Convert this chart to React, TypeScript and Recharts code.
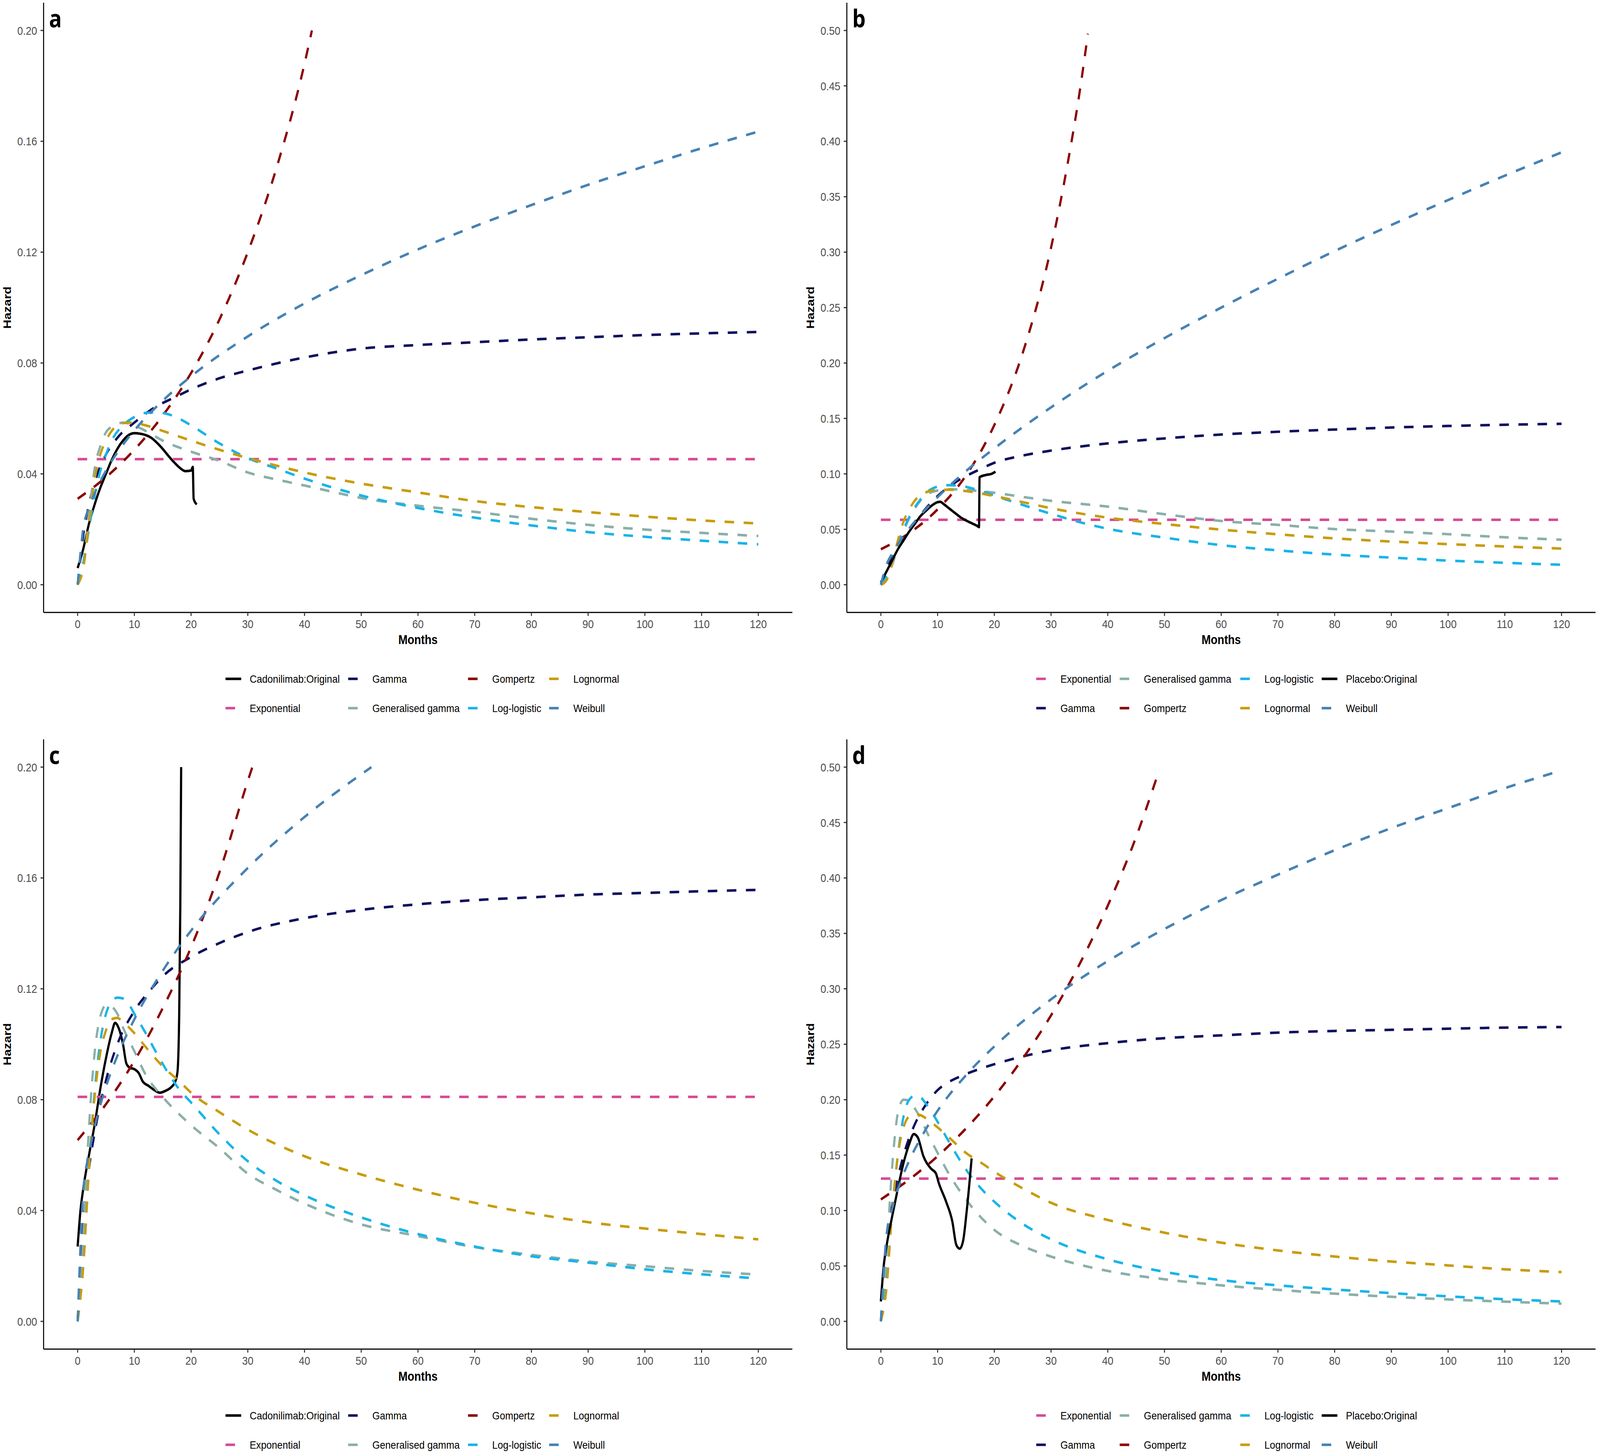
import React from 'react';
import { LineChart, Line, XAxis, YAxis, Label } from 'recharts';

type Pt = [number, number];

// ---------- Panel a (Cadonilimab) ----------
const aOriginal: Pt[] = [[0,0.006],[1,0.013],[2,0.022],[3,0.029],[4,0.035],[5,0.04],[6,0.045],[7,0.049],[8,0.052],[9,0.054],[10,0.0547],[11,0.0545],[12,0.054],[13,0.053],[14,0.0512],[15,0.049],[16,0.0465],[17,0.0442],[18,0.0422],[19,0.041],[20,0.0412],[20.3,0.0425],[20.45,0.031],[21,0.029]];
const aExponential: Pt[] = [[0,0.0453],[120,0.0453]];
const aGamma: Pt[] = [[0,0],[1,0.018],[2,0.029],[3,0.037],[5,0.047],[7,0.053],[10,0.0585],[14,0.0645],[17,0.0675],[20,0.0705],[25,0.0745],[30,0.0773],[40,0.082],[50,0.0852],[60,0.0865],[70,0.0875],[80,0.0885],[90,0.0893],[100,0.0901],[110,0.0907],[120,0.0912]];
const aGenGamma: Pt[] = [[0,0],[1,0.008],[2,0.025],[3,0.042],[4,0.05],[5,0.055],[6,0.057],[7,0.058],[8,0.0585],[10,0.0575],[12,0.0555],[15,0.052],[20,0.048],[25,0.0447],[30,0.0405],[35,0.038],[40,0.0358],[45,0.0335],[50,0.0313],[60,0.0285],[70,0.0263],[80,0.0238],[90,0.0216],[100,0.0199],[110,0.0187],[120,0.0176]];
const aGompertz: Pt[] = [[0,0.031],[5,0.0388],[10,0.0487],[15,0.061],[20,0.0764],[25,0.0957],[30,0.12],[35,0.15],[40,0.188],[41.3,0.2]];
const aLogLogistic: Pt[] = [[0,0],[1,0.008],[2,0.02],[3,0.032],[4,0.041],[5,0.047],[6,0.052],[8,0.0575],[10,0.0605],[12,0.062],[14,0.0622],[16,0.0615],[18,0.0598],[20,0.0575],[25,0.051],[30,0.0457],[35,0.042],[40,0.0383],[50,0.0322],[60,0.0277],[70,0.0242],[80,0.0214],[90,0.019],[100,0.0173],[110,0.0159],[120,0.0146]];
const aLognormal: Pt[] = [[0,0],[1,0.006],[2,0.022],[3,0.038],[4,0.047],[5,0.052],[6,0.0555],[7,0.0575],[8,0.0583],[9,0.0585],[10,0.0584],[12,0.0575],[15,0.0555],[20,0.052],[25,0.0487],[30,0.0457],[35,0.043],[40,0.0405],[50,0.0365],[60,0.0333],[70,0.0302],[80,0.028],[90,0.0262],[100,0.0246],[110,0.0232],[120,0.0221]];
const aWeibull: Pt[] = [[0,0],[1,0.0205],[2,0.0277],[3,0.033],[5,0.0412],[7,0.0477],[10,0.0557],[15,0.0664],[20,0.0752],[30,0.0896],[40,0.1015],[50,0.1117],[60,0.121],[70,0.1293],[80,0.137],[90,0.1443],[100,0.151],[110,0.1575],[120,0.1635]];

// ---------- Panel b (Placebo) ----------
const bOriginal: Pt[] = [[0,0.002],[1,0.012],[2,0.022],[3,0.032],[4,0.04],[5,0.048],[6,0.055],[7,0.062],[8,0.067],[9,0.0715],[10,0.0745],[10.5,0.0748],[11,0.073],[12,0.069],[13,0.065],[14,0.061],[15,0.058],[16,0.0555],[17,0.053],[17.3,0.052],[17.4,0.097],[18.5,0.099],[19.5,0.1],[20.2,0.102]];
const bExponential: Pt[] = [[0,0.0586],[120,0.0586]];
const bGamma: Pt[] = [[0,0],[1,0.014],[2,0.024],[3,0.033],[5,0.049],[7,0.063],[10,0.08],[13,0.092],[15,0.098],[17,0.103],[20,0.11],[25,0.1165],[30,0.121],[40,0.1275],[50,0.132],[60,0.1355],[70,0.138],[80,0.14],[90,0.1418],[100,0.1432],[110,0.1443],[120,0.1452]];
const bGenGamma: Pt[] = [[0,0],[1,0.005],[2,0.018],[3,0.033],[4,0.048],[5,0.06],[6,0.069],[7,0.076],[8,0.081],[10,0.085],[12,0.0862],[15,0.0855],[20,0.083],[25,0.0792],[30,0.0757],[40,0.0705],[50,0.0636],[60,0.0575],[70,0.054],[80,0.0502],[90,0.048],[100,0.0456],[110,0.0428],[120,0.0406]];
const bGompertz: Pt[] = [[0,0.032],[5,0.0466],[10,0.068],[15,0.0985],[20,0.144],[25,0.209],[30,0.304],[33,0.382],[35,0.443],[36.5,0.497]];
const bLogLogistic: Pt[] = [[0,0],[1,0.008],[2,0.022],[3,0.037],[4,0.05],[5,0.061],[6,0.07],[7,0.077],[8,0.083],[9,0.0865],[10,0.0885],[11,0.0895],[12,0.0898],[14,0.0893],[16,0.087],[18,0.084],[20,0.0805],[25,0.072],[30,0.064],[35,0.0565],[40,0.0505],[50,0.0425],[60,0.0357],[70,0.031],[80,0.0272],[90,0.0245],[100,0.0218],[110,0.0198],[120,0.018]];
const bLognormal: Pt[] = [[0,0],[1,0.004],[2,0.02],[3,0.04],[4,0.057],[5,0.068],[6,0.076],[7,0.081],[8,0.0835],[10,0.0855],[12,0.0857],[15,0.0845],[20,0.08],[25,0.0745],[30,0.069],[40,0.0605],[50,0.0548],[60,0.0497],[70,0.0455],[80,0.0418],[90,0.039],[100,0.0366],[110,0.0345],[120,0.0326]];
const bWeibull: Pt[] = [[0,0],[1,0.0181],[2,0.0282],[3,0.0366],[5,0.0508],[7,0.063],[10,0.079],[15,0.1025],[20,0.123],[30,0.16],[40,0.193],[50,0.2225],[60,0.25],[70,0.276],[80,0.301],[90,0.3245],[100,0.347],[110,0.369],[120,0.39]];

// ---------- Panel c (Cadonilimab) ----------
const cOriginal: Pt[] = [[0,0.027],[0.5,0.04],[1,0.048],[2,0.06],[3,0.071],[4,0.084],[5,0.095],[6,0.104],[6.6,0.1077],[7.2,0.106],[8,0.1],[8.6,0.093],[9.2,0.0915],[10,0.091],[10.8,0.0895],[11.5,0.0865],[12.5,0.085],[13.5,0.0835],[14.5,0.0825],[15.5,0.0832],[16.5,0.0845],[17.2,0.0865],[17.6,0.09],[17.9,0.11],[18.1,0.15],[18.25,0.2]];
const cExponential: Pt[] = [[0,0.081],[120,0.081]];
const cGamma: Pt[] = [[0,0],[1,0.035],[2,0.055],[3,0.068],[5,0.087],[7,0.1],[10,0.112],[13,0.12],[15,0.1245],[20,0.1315],[25,0.1365],[30,0.1405],[40,0.1455],[50,0.1485],[60,0.1505],[70,0.152],[80,0.153],[90,0.154],[100,0.1546],[110,0.1552],[120,0.1557]];
const cGenGamma: Pt[] = [[0,0],[0.5,0.01],[1,0.03],[2,0.07],[3,0.097],[4,0.11],[5,0.114],[6,0.1135],[7,0.111],[8,0.106],[10,0.0975],[12,0.089],[15,0.081],[20,0.0708],[25,0.0625],[30,0.0533],[35,0.0475],[40,0.0425],[50,0.035],[60,0.0308],[70,0.0268],[80,0.024],[90,0.0216],[100,0.0199],[110,0.0182],[120,0.0169]];
const cGompertz: Pt[] = [[0,0.0654],[5,0.0784],[10,0.094],[15,0.113],[20,0.135],[25,0.162],[30,0.195],[30.8,0.2]];
const cLogLogistic: Pt[] = [[0,0],[1,0.02],[2,0.055],[3,0.083],[4,0.101],[5,0.111],[6,0.1155],[7,0.1168],[8,0.1165],[9,0.1145],[10,0.111],[12,0.104],[14,0.0965],[16,0.0895],[18,0.0835],[20,0.079],[25,0.0675],[30,0.0578],[35,0.0508],[40,0.0455],[50,0.0375],[60,0.0315],[70,0.027],[80,0.0235],[90,0.0212],[100,0.0188],[110,0.017],[120,0.0155]];
const cLognormal: Pt[] = [[0,0],[1,0.02],[2,0.055],[3,0.081],[4,0.097],[5,0.105],[6,0.109],[7,0.1095],[8,0.108],[10,0.104],[12,0.099],[15,0.092],[18,0.0865],[20,0.0825],[25,0.0755],[30,0.0692],[40,0.0596],[50,0.053],[60,0.0475],[70,0.0428],[80,0.039],[90,0.0358],[100,0.0335],[110,0.0315],[120,0.0296]];
const cWeibull: Pt[] = [[0,0],[1,0.0469],[2,0.0605],[3,0.0702],[5,0.0847],[7,0.0958],[10,0.109],[15,0.1265],[20,0.141],[30,0.1636],[40,0.182],[51.8,0.2]];

// ---------- Panel d (Placebo) ----------
const dOriginal: Pt[] = [[0,0.018],[0.5,0.05],[1,0.068],[2,0.095],[3,0.12],[4,0.143],[5,0.16],[5.8,0.169],[6.5,0.166],[7.5,0.149],[8.8,0.138],[9.7,0.1335],[10.2,0.125],[11.5,0.108],[12.6,0.09],[13.3,0.069],[13.9,0.0656],[14.5,0.0727],[15.1,0.098],[16,0.147]];
const dExponential: Pt[] = [[0,0.1288],[120,0.1288]];
const dGamma: Pt[] = [[0,0],[1,0.07],[2,0.105],[3,0.13],[4,0.15],[6,0.178],[8,0.196],[10,0.2086],[12,0.216],[14,0.221],[17,0.227],[20,0.232],[25,0.239],[30,0.2445],[40,0.251],[50,0.2555],[60,0.258],[70,0.2605],[80,0.262],[90,0.263],[100,0.264],[110,0.265],[120,0.2655]];
const dGenGamma: Pt[] = [[0,0],[0.5,0.02],[1,0.06],[2,0.14],[3,0.188],[4,0.2],[5,0.199],[6,0.192],[7,0.183],[8,0.172],[10,0.152],[12,0.133],[15,0.11],[20,0.0825],[25,0.068],[30,0.0585],[40,0.0455],[50,0.038],[60,0.0325],[70,0.0285],[80,0.025],[90,0.0222],[100,0.0198],[110,0.0178],[120,0.016]];
const dGompertz: Pt[] = [[0,0.11],[5,0.128],[10,0.149],[15,0.174],[20,0.203],[25,0.237],[30,0.276],[35,0.322],[40,0.375],[45,0.437],[48.6,0.49]];
const dLogLogistic: Pt[] = [[0,0],[1,0.035],[2,0.1],[3,0.15],[4,0.185],[5,0.2],[6,0.2036],[7,0.202],[8,0.196],[10,0.18],[12,0.162],[15,0.137],[18,0.118],[20,0.108],[25,0.088],[30,0.074],[40,0.056],[50,0.0447],[60,0.0372],[70,0.0325],[80,0.0288],[90,0.0255],[100,0.0226],[110,0.02],[120,0.018]];
const dLognormal: Pt[] = [[0,0],[1,0.03],[2,0.1],[3,0.15],[4,0.175],[5,0.185],[6,0.187],[7,0.186],[8,0.183],[10,0.175],[12,0.166],[15,0.152],[18,0.142],[20,0.135],[25,0.12],[30,0.107],[40,0.0915],[50,0.08],[60,0.071],[70,0.064],[80,0.0585],[90,0.054],[100,0.0505],[110,0.047],[120,0.0445]];
const dWeibull: Pt[] = [[0,0],[1,0.0778],[2,0.1018],[3,0.119],[5,0.145],[7,0.165],[10,0.19],[15,0.222],[20,0.248],[30,0.2905],[40,0.325],[50,0.354],[60,0.38],[70,0.403],[80,0.425],[90,0.445],[100,0.463],[110,0.481],[120,0.497]];

// ---------- Axes / labels ----------
const monthTicks = [0, 10, 20, 30, 40, 50, 60, 70, 80, 90, 100, 110, 120];
const hazardTicksSmall = [0, 0.04, 0.08, 0.12, 0.16, 0.2];
const hazardTicksLarge = [0, 0.05, 0.1, 0.15, 0.2, 0.25, 0.3, 0.35, 0.4, 0.45, 0.5];

const COLORS: Record<string, string> = {
  'Cadonilimab:Original': '#000000',
  'Placebo:Original': '#000000',
  'Exponential': '#D64B96',
  'Gamma': '#10105E',
  'Generalised gamma': '#8AAFAA',
  'Gompertz': '#8B0000',
  'Log-logistic': '#18B4E8',
  'Lognormal': '#C89C0C',
  'Weibull': '#4682B4',
};

const FONT = '"Liberation Sans", Arial, Helvetica, sans-serif';
const LINE_W = 6.5;
const DASH = '28 28';
const PAGE_W = 4697;
const PAGE_H = 3720;

type Series = { name: string; pts: Pt[] };
type LegendCol = { x: number; items: string[] };

const isOriginal = (n: string) => n.endsWith(':Original');

const hazardLabel = (props: any) => {
  const vb = (props && props.viewBox) || {};
  const y0 = typeof vb.y === 'number' ? vb.y : 7;
  const h = typeof vb.height === 'number' ? vb.height : 1561;
  const cx = 20;
  const cy = y0 + h / 2;
  return (
    <text
      x={cx}
      y={cy}
      transform={`rotate(-90 ${cx} ${cy})`}
      textAnchor="middle"
      dominantBaseline="central"
      style={{ fontSize: 32.5, fontWeight: 700, fill: '#000', fontFamily: FONT }}
    >
      Hazard
    </text>
  );
};

function Panel(props: {
  left: number;
  top: number;
  letter: string;
  yDomain: [number, number];
  yTicks: number[];
  series: Series[];
  legend: LegendCol[];
}) {
  const { left, top, letter, yDomain, yTicks, series, legend } = props;
  const W = 2339;
  return (
    <div style={{ position: 'absolute', left, top, width: W, height: 1834 }}>
      <LineChart width={W} height={1670} margin={{ top: 7, right: 13, bottom: 0, left: 0 }}>
        <XAxis
          type="number"
          dataKey="x"
          domain={[-6, 126]}
          ticks={monthTicks}
          interval={0}
          allowDataOverflow
          height={102}
          tickSize={9}
          tickMargin={10}
          axisLine={{ stroke: '#000', strokeWidth: 3 }}
          tickLine={{ stroke: '#333', strokeWidth: 3 }}
          tick={{ fill: '#4D4D4D', fontSize: 30, fontFamily: FONT }}
        >
          <Label
            value="Months"
            position="insideBottom"
            offset={21}
            style={{ fontSize: 32.5, fontWeight: 700, fill: '#000', fontFamily: FONT }}
          />
        </XAxis>
        <YAxis
          type="number"
          domain={yDomain}
          ticks={yTicks}
          interval={0}
          allowDataOverflow
          width={128}
          tickSize={9}
          tickMargin={10}
          tickFormatter={(v: number) => v.toFixed(2)}
          axisLine={{ stroke: '#000', strokeWidth: 3 }}
          tickLine={{ stroke: '#333', strokeWidth: 3 }}
          tick={{ fill: '#4D4D4D', fontSize: 30, fontFamily: FONT }}
        >
          <Label content={hazardLabel} />
        </YAxis>
        {series.map((s) => (
          <Line
            key={s.name}
            name={s.name}
            data={s.pts.map(([x, y]) => ({ x, y }))}
            dataKey="y"
            type="monotone"
            stroke={COLORS[s.name]}
            strokeWidth={LINE_W}
            strokeDasharray={isOriginal(s.name) ? undefined : DASH}
            strokeLinejoin="round"
            dot={false}
            activeDot={false}
            isAnimationActive={false}
          />
        ))}
      </LineChart>
      <svg
        width={W}
        height={1834}
        style={{ position: 'absolute', left: 0, top: 0, pointerEvents: 'none' }}
      >
        <text
          x={144}
          y={70}
          style={{ fontSize: 62, fontWeight: 700, fill: '#000', fontFamily: '"Open Sans", "Noto Sans", sans-serif' }}
        >
          {letter}
        </text>
        {legend.map((col) =>
          col.items.map((name, r) => {
            const y = 1738 + r * 75;
            return (
              <g key={name}>
                <line
                  x1={col.x}
                  x2={col.x + 46}
                  y1={y}
                  y2={y}
                  stroke={COLORS[name]}
                  strokeWidth={LINE_W}
                  strokeDasharray={isOriginal(name) ? undefined : DASH}
                />
                <text
                  x={col.x + 71}
                  y={y}
                  dominantBaseline="central"
                  style={{ fontSize: 28.5, fill: '#000', fontFamily: FONT }}
                >
                  {name}
                </text>
              </g>
            );
          })
        )}
      </svg>
    </div>
  );
}

const seriesA: Series[] = [
  { name: 'Cadonilimab:Original', pts: aOriginal },
  { name: 'Exponential', pts: aExponential },
  { name: 'Gamma', pts: aGamma },
  { name: 'Generalised gamma', pts: aGenGamma },
  { name: 'Gompertz', pts: aGompertz },
  { name: 'Log-logistic', pts: aLogLogistic },
  { name: 'Lognormal', pts: aLognormal },
  { name: 'Weibull', pts: aWeibull },
];
const seriesB: Series[] = [
  { name: 'Exponential', pts: bExponential },
  { name: 'Gamma', pts: bGamma },
  { name: 'Generalised gamma', pts: bGenGamma },
  { name: 'Gompertz', pts: bGompertz },
  { name: 'Log-logistic', pts: bLogLogistic },
  { name: 'Lognormal', pts: bLognormal },
  { name: 'Placebo:Original', pts: bOriginal },
  { name: 'Weibull', pts: bWeibull },
];
const seriesC: Series[] = [
  { name: 'Cadonilimab:Original', pts: cOriginal },
  { name: 'Exponential', pts: cExponential },
  { name: 'Gamma', pts: cGamma },
  { name: 'Generalised gamma', pts: cGenGamma },
  { name: 'Gompertz', pts: cGompertz },
  { name: 'Log-logistic', pts: cLogLogistic },
  { name: 'Lognormal', pts: cLognormal },
  { name: 'Weibull', pts: cWeibull },
];
const seriesD: Series[] = [
  { name: 'Exponential', pts: dExponential },
  { name: 'Gamma', pts: dGamma },
  { name: 'Generalised gamma', pts: dGenGamma },
  { name: 'Gompertz', pts: dGompertz },
  { name: 'Log-logistic', pts: dLogLogistic },
  { name: 'Lognormal', pts: dLognormal },
  { name: 'Placebo:Original', pts: dOriginal },
  { name: 'Weibull', pts: dWeibull },
];

const legendCadonilimab: LegendCol[] = [
  { x: 662, items: ['Cadonilimab:Original', 'Exponential'] },
  { x: 1022, items: ['Gamma', 'Generalised gamma'] },
  { x: 1374, items: ['Gompertz', 'Log-logistic'] },
  { x: 1612, items: ['Lognormal', 'Weibull'] },
];
const legendPlacebo: LegendCol[] = [
  { x: 684, items: ['Exponential', 'Gamma'] },
  { x: 929, items: ['Generalised gamma', 'Gompertz'] },
  { x: 1283, items: ['Log-logistic', 'Lognormal'] },
  { x: 1522, items: ['Placebo:Original', 'Weibull'] },
];

// Fit the 4697x3720 figure into whatever viewport the browser really has.
function pageScale(): [number, number] {
  if (typeof window === 'undefined') return [1, 1];
  const w = window.innerWidth || PAGE_W;
  const h = window.innerHeight || PAGE_H;
  const sx = w / PAGE_W;
  const sy = h / PAGE_H;
  return [sx > 0 && sx < 1 ? sx : 1, sy > 0 && sy < 1 ? sy : 1];
}

export default function App() {
  const [sx, sy] = pageScale();
  return (
    <div
      style={{
        position: 'absolute',
        left: 0,
        top: 0,
        width: PAGE_W * sx,
        height: PAGE_H * sy,
        background: '#fff',
        overflow: 'hidden',
      }}
    >
      <div
        style={{
          position: 'absolute',
          left: 0,
          top: 0,
          width: PAGE_W,
          height: PAGE_H,
          transform: `scale(${sx}, ${sy})`,
          transformOrigin: '0 0',
        }}
      >
        <Panel left={0} top={0} letter="a" yDomain={[-0.01, 0.21]} yTicks={hazardTicksSmall} series={seriesA} legend={legendCadonilimab} />
        <Panel left={2358} top={0} letter="b" yDomain={[-0.025, 0.525]} yTicks={hazardTicksLarge} series={seriesB} legend={legendPlacebo} />
        <Panel left={0} top={1886} letter="c" yDomain={[-0.01, 0.21]} yTicks={hazardTicksSmall} series={seriesC} legend={legendCadonilimab} />
        <Panel left={2358} top={1886} letter="d" yDomain={[-0.025, 0.525]} yTicks={hazardTicksLarge} series={seriesD} legend={legendPlacebo} />
      </div>
    </div>
  );
}
